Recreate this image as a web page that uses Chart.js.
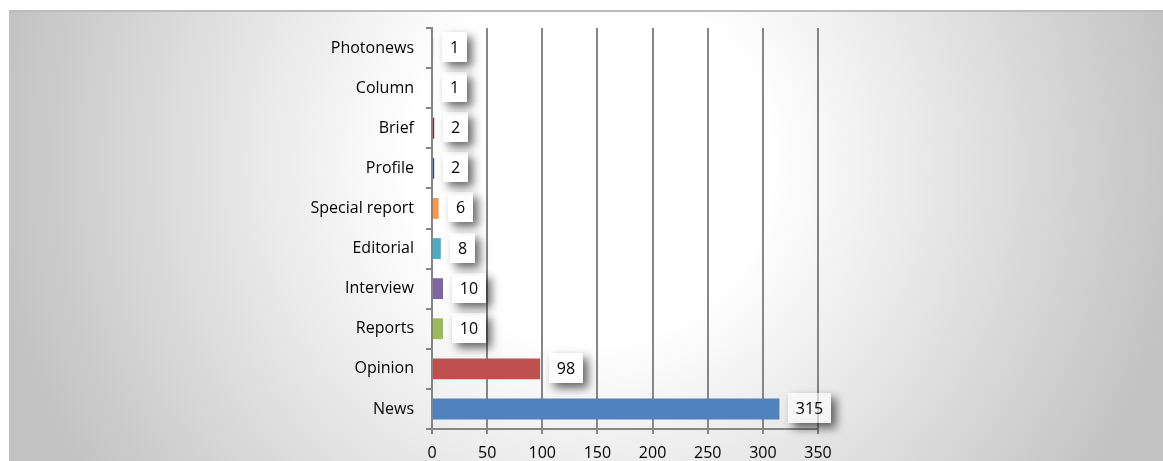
<!DOCTYPE html>
<html>
<head>
<meta charset="utf-8">
<script src="https://cdn.jsdelivr.net/npm/chart.js@4.4.1/dist/chart.umd.min.js"></script>
<style>
  html, body { margin: 0; padding: 0; background: #fff; }
  .frame {
    position: absolute; left: 9px; top: 10px; width: 1154px; height: 451px;
    border-top: 2px solid #bcbcbc;
    box-sizing: border-box;
    background: radial-gradient(circle 600px at 581px 150px, #ffffff 30%, #c2c2c2 100%);
  }
  .wrap { position: absolute; left: 0; top: 0; width: 1163px; height: 461px; }
</style>
</head>
<body>
<div class="frame"></div>
<div class="wrap"><canvas id="chart-types"></canvas></div>
<script>
// article types, bottom to top as in the figure
const categories = ['News', 'Opinion', 'Reports', 'Interview', 'Editorial', 'Special report', 'Profile', 'Brief', 'Column', 'Photonews'];
const counts = [315, 98, 10, 10, 8, 6, 2, 2, 1, 1];
const barColors = ['#4F81BD', '#C0504D', '#9BBB59', '#8064A2', '#4BACC6', '#F79646', '#2C4D75', '#772C2A', '#5F7530', '#4D3B62'];
const xTicks = [0, 50, 100, 150, 200, 250, 300, 350];

const FONT = '"Open Sans", "DejaVu Sans", sans-serif';
const AXIS_GRAY = '#868686';

/**
 * Value boxes with drop shadow next to each bar end
 */
const valueBoxes = {
  id: 'valueBoxes',
  afterDatasetsDraw(chart) {
    const ctx = chart.ctx;
    const meta = chart.getDatasetMeta(0);
    ctx.save();
    ctx.font = '16px ' + FONT;
    meta.data.forEach((bar, i) => {
      const txt = String(counts[i]);
      const w = Math.round(ctx.measureText(txt).width) + 16;
      const h = 30;
      const x = Math.round(bar.x) + 9;
      const y = Math.round(bar.y - h / 2) - 1;

      // shadow only outside the box
      ctx.save();
      ctx.beginPath();
      ctx.rect(0, 0, chart.width, chart.height);
      ctx.rect(x, y, w, h);
      ctx.clip('evenodd');
      ctx.shadowColor = 'rgba(0,0,0,0.6)';
      ctx.shadowBlur = 10;
      ctx.shadowOffsetX = 5;
      ctx.shadowOffsetY = 5;
      ctx.fillStyle = '#000';
      ctx.fillRect(x, y, w, h);
      ctx.restore();

      ctx.fillStyle = 'rgba(255,255,255,0.6)';
      ctx.fillRect(x, y, w, h);
      ctx.fillStyle = '#000';
      ctx.textAlign = 'center';
      ctx.textBaseline = 'middle';
      ctx.fillText(txt, x + w / 2, y + h / 2 + 1);
    });
    ctx.restore();
  }
};

const ctx = document.getElementById('chart-types').getContext('2d');
new Chart(ctx, {
  type: 'bar',
  data: {
    labels: categories,
    datasets: [{
      data: counts,
      backgroundColor: barColors,
      borderWidth: 0,
      barPercentage: 0.52,
      categoryPercentage: 1
    }]
  },
  options: {
    indexAxis: 'y',
    responsive: true,
    maintainAspectRatio: false,
    animation: false,
    layout: { padding: { top: 28, right: 345, bottom: 0, left: 0 } },
    plugins: {
      legend: { display: false },
      tooltip: { enabled: false }
    },
    scales: {
      x: {
        min: 0,
        max: 350,
        afterBuildTicks: (scale) => { scale.ticks = xTicks.map(v => ({ value: v })); },
        afterFit: (scale) => { scale.height = 32; },
        grid: { color: AXIS_GRAY, lineWidth: 2, tickLength: 5, tickColor: AXIS_GRAY },
        border: { color: AXIS_GRAY, width: 2 },
        ticks: { color: '#000', padding: 10, font: { family: FONT, size: 16 } }
      },
      y: {
        reverse: true,
        afterFit: (scale) => { scale.width = 432; },
        grid: { drawOnChartArea: false, color: AXIS_GRAY, lineWidth: 2, tickLength: 6, offset: true },
        border: { color: AXIS_GRAY, width: 2 },
        ticks: { color: '#000', padding: 12, font: { family: FONT, size: 16 } }
      }
    }
  },
  plugins: [valueBoxes]
});
</script>
</body>
</html>
